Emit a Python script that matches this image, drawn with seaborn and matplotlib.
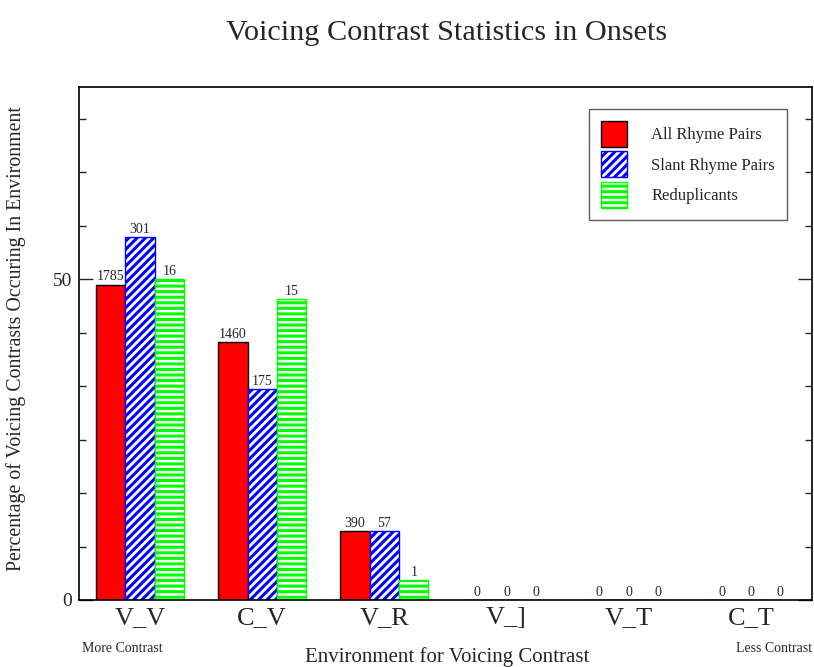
import matplotlib
matplotlib.use("Agg")
import matplotlib.pyplot as plt
import seaborn as sns
import pandas as pd
from matplotlib.ticker import MultipleLocator, FixedLocator
from matplotlib.patches import Patch

# ---- data ----
categories = ["V_V", "C_V", "V_R", "V_]", "V_T", "C_T"]
series = ["All Rhyme Pairs", "Slant Rhyme Pairs", "Reduplicants"]
all_pct = [49.1, 40.2, 10.7, 0.0, 0.0, 0.0]
slant_pct = [56.5, 32.8, 10.7, 0.0, 0.0, 0.0]
redup_pct = [50.0, 46.9, 3.1, 0.0, 0.0, 0.0]
all_counts = [1785, 1460, 390, 0, 0, 0]
slant_counts = [301, 175, 57, 0, 0, 0]
redup_counts = [16, 15, 1, 0, 0, 0]
y_ticks = [0, 50]

sns.set_style("ticks")
plt.rcParams["font.family"] = ["Liberation Serif", "DejaVu Serif"]
plt.rcParams["hatch.linewidth"] = 2.2

rows = []
for s, vals, cnts in zip(series, [all_pct, slant_pct, redup_pct],
                         [all_counts, slant_counts, redup_counts]):
    for c, v, n in zip(categories, vals, cnts):
        rows.append({"env": c, "pct": v, "series": s, "count": n})
df = pd.DataFrame(rows)

face = {"All Rhyme Pairs": "#ff0000", "Slant Rhyme Pairs": "#ffffff", "Reduplicants": "#ffffff"}
edge = {"All Rhyme Pairs": "#000000", "Slant Rhyme Pairs": "#0000ff", "Reduplicants": "#00ff00"}
hatch = {"All Rhyme Pairs": None, "Slant Rhyme Pairs": "////", "Reduplicants": "---"}
counts = {"All Rhyme Pairs": all_counts, "Slant Rhyme Pairs": slant_counts, "Reduplicants": redup_counts}

W, H = 814, 667
fig = plt.figure(figsize=(W / 100, H / 100), dpi=100)
ax = fig.add_axes([79 / W, 1 - 600 / H, (812 - 79) / W, (600 - 86.5) / H])

sns.barplot(data=df, x="env", y="pct", hue="series", order=categories,
            hue_order=series, palette=face, saturation=1, width=0.72,
            errorbar=None, legend=False, ax=ax, linewidth=1.0)

for s, cont in zip(series, ax.containers):
    for p in cont.patches:
        p.set_facecolor(face[s])
        p.set_edgecolor(edge[s])
        p.set_linewidth(1.0)
        if hatch[s]:
            p.set_hatch(hatch[s])
    ax.bar_label(cont, labels=[str(n) for n in counts[s]], padding=1, fontsize=10)

ax.set_ylim(0, 80)
ax.set_xlim(-0.5, len(categories) - 0.5)
ax.yaxis.set_major_locator(FixedLocator(y_ticks))
ax.yaxis.set_minor_locator(MultipleLocator(50 / 6))
ax.tick_params(axis="y", which="major", direction="in", length=10, width=1,
               labelsize=14, pad=5, right=True)
ax.tick_params(axis="y", which="minor", direction="in", length=5, width=1, right=True)
ax.tick_params(axis="x", length=0, labelsize=19, pad=5)
ax.set_xlabel("")
ax.set_ylabel("")
for sp in ax.spines.values():
    sp.set_visible(True)
    sp.set_linewidth(1.2)
    sp.set_color("black")

handles = [Patch(facecolor=face[s], edgecolor=edge[s], hatch=hatch[s], linewidth=1.0) for s in series]
leg = ax.legend(handles, series, loc="upper right",
                bbox_to_anchor=(787 / W, 1 - 109 / H), bbox_transform=fig.transFigure,
                borderaxespad=0, fontsize=12, handlelength=1.55, handleheight=2.02,
                handletextpad=1.45, labelspacing=0.27, borderpad=0.72, frameon=True,
                fancybox=False, edgecolor="#333333")
leg.get_frame().set_linewidth(1.0)

fig.text(447 / W, 1 - 33 / H, "Voicing Contrast Statistics in Onsets",
         ha="center", va="center", fontsize=21.8)
fig.text(16 / W, 1 - 339 / H, "Percentage of Voicing Contrasts Occuring In Environment",
         ha="center", va="center", rotation=90, fontsize=14.3)
fig.text(447 / W, 1 - 657 / H, "Environment for Voicing Contrast",
         ha="center", va="center", fontsize=15)
fig.text(82 / W, 1 - 649 / H, "More Contrast", ha="left", va="center", fontsize=10)
fig.text(812 / W, 1 - 649 / H, "Less Contrast", ha="right", va="center", fontsize=10)

fig.savefig("out.png", dpi=100)
